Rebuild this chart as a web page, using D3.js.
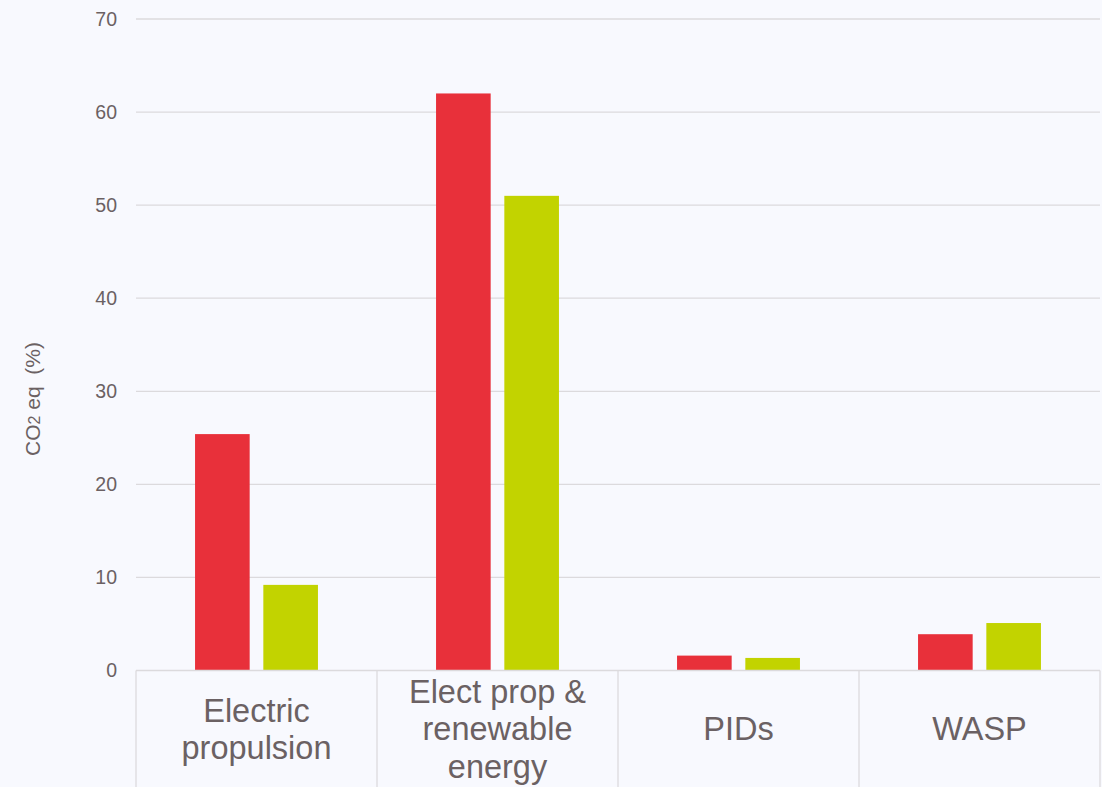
<!DOCTYPE html>
<html>
<head>
<meta charset="utf-8">
<script src="https://d3js.org/d3.v7.min.js"></script>
<style>
  body { margin: 0; background: #f8f9fe; }
  svg { display: block; font-family: "Liberation Sans", Arial, sans-serif; }
</style>
</head>
<body>
<svg id="chart" width="1102" height="787"></svg>
<script>
// categories and series values
var categories = [["Electric", "propulsion"], ["Elect prop &", "renewable", "energy"], ["PIDs"], ["WASP"]];
var seriesNames = ["a", "b"];
var seriesA = [25.4, 62, 1.6, 3.9];
var seriesB = [9.2, 51, 1.35, 5.1];
var yTicks = [0, 10, 20, 30, 40, 50, 60, 70];
var colors = ["#e8303a", "#c2d300"];

var svg = d3.select("#chart");
var textColor = "#6b6163";
var plotLeft = 136, plotRight = 1100, plotTop = 19, plotBottom = 670.5;

var x0 = d3.scaleBand().domain(d3.range(categories.length)).range([plotLeft, plotRight]).padding(0);
var bw = x0.bandwidth();
var x1 = d3.scaleBand().domain(seriesNames).range([bw * 0.245, bw * 0.755]).paddingInner(0.2);
var y = d3.scaleLinear().domain([0, 70]).range([plotBottom, plotTop]);

// gridlines
svg.append("g").selectAll("line")
  .data(yTicks.filter(function(d) { return d > 0; }))
  .enter().append("line")
    .attr("x1", plotLeft).attr("x2", plotRight)
    .attr("y1", function(d) { return y(d); })
    .attr("y2", function(d) { return y(d); })
    .attr("stroke", "#dcdadd").attr("stroke-width", 1.3);

// tick labels
svg.append("g").selectAll("text")
  .data(yTicks)
  .enter().append("text")
    .attr("x", 117)
    .attr("y", function(d) { return y(d); })
    .attr("dy", "0.35em")
    .attr("text-anchor", "end")
    .attr("font-size", 19.5)
    .attr("fill", textColor)
    .text(function(d) { return d; });

// bars
var rows = categories.map(function(c, i) { return [seriesA[i], seriesB[i]]; });
var groups = svg.append("g").selectAll("g")
  .data(rows)
  .enter().append("g")
    .attr("transform", function(d, i) { return "translate(" + x0(i) + ",0)"; });
groups.selectAll("rect")
  .data(function(d) { return d.map(function(v, j) { return {key: seriesNames[j], value: v, j: j}; }); })
  .enter().append("rect")
    .attr("x", function(d) { return x1(d.key); })
    .attr("width", x1.bandwidth())
    .attr("y", function(d) { return y(d.value); })
    .attr("height", function(d) { return y(0) - y(d.value); })
    .attr("fill", function(d) { return colors[d.j]; });

// baseline + category dividers
svg.append("line")
  .attr("x1", plotLeft).attr("x2", plotRight)
  .attr("y1", y(0)).attr("y2", y(0))
  .attr("stroke", "#dcdadd").attr("stroke-width", 1.3);
svg.append("g").selectAll("line")
  .data(d3.range(categories.length + 1))
  .enter().append("line")
    .attr("x1", function(i) { return plotLeft + i * bw; })
    .attr("x2", function(i) { return plotLeft + i * bw; })
    .attr("y1", y(0)).attr("y2", 787)
    .attr("stroke", "#dcdadd").attr("stroke-width", 1.3);

// category labels
var lineH = 37.5;
svg.append("g").selectAll("text")
  .data(categories)
  .enter().append("text")
    .attr("text-anchor", "middle")
    .attr("font-size", 32.5)
    .attr("fill", textColor)
    .each(function(lines, i) {
      var t = d3.select(this);
      var cx = x0(i) + bw / 2;
      var startY = 729 - (lines.length - 1) * lineH / 2;
      lines.forEach(function(l, k) {
        t.append("tspan")
          .attr("x", cx)
          .attr("y", startY + k * lineH)
          .attr("dy", "0.35em")
          .text(l);
      });
    });

// y axis title
var title = svg.append("text")
  .attr("transform", "translate(40," + 399 + ") rotate(-90)")
  .attr("text-anchor", "middle")
  .attr("font-size", 21)
  .attr("fill", textColor)
  .attr("xml:space", "preserve")
  .style("white-space", "pre");
title.append("tspan").text("CO");
title.append("tspan").attr("font-size", 16).text("2");
title.append("tspan").text(" eq  (%)");
</script>
</body>
</html>
